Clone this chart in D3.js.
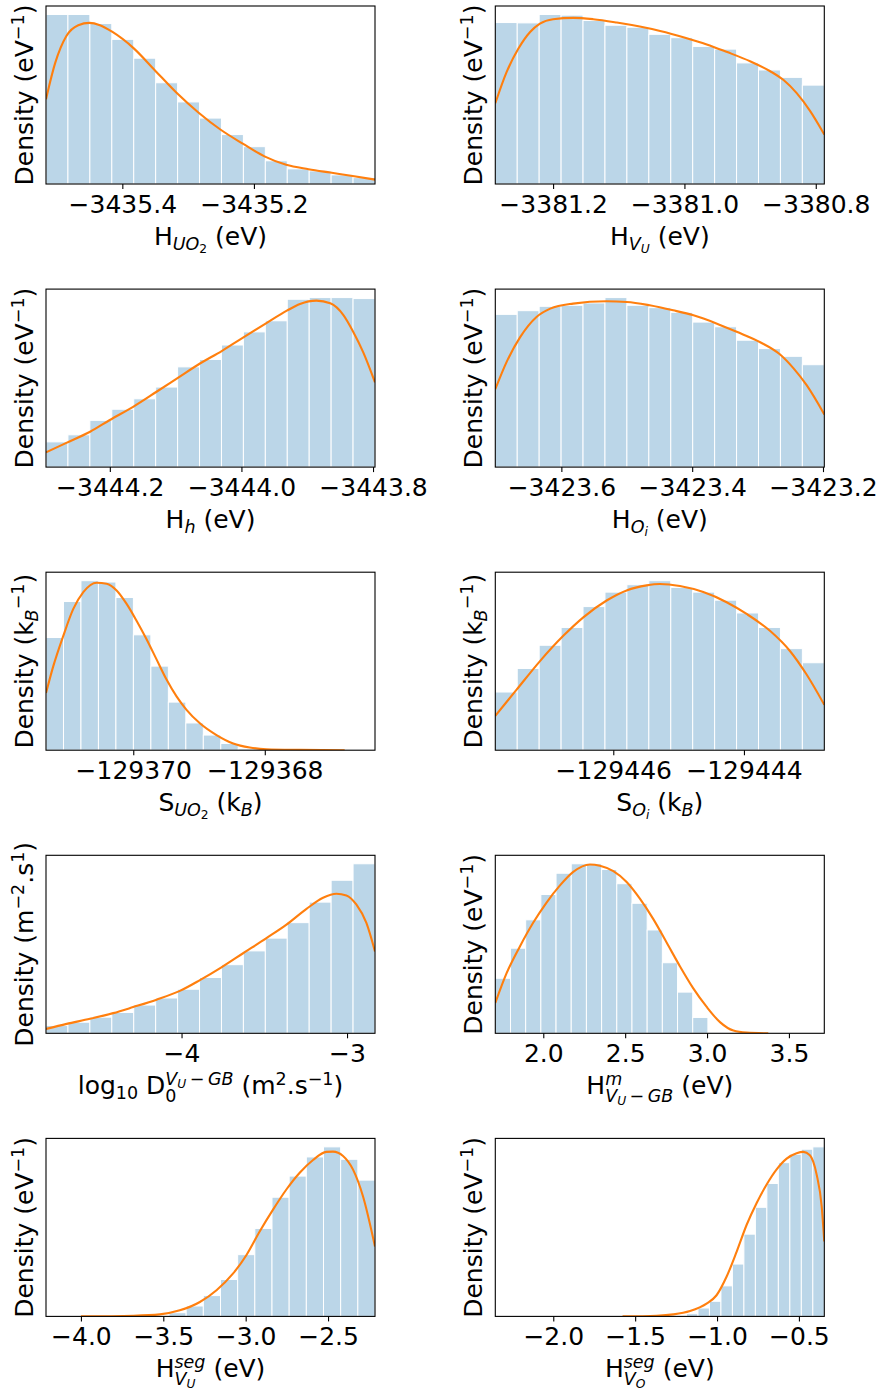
<!DOCTYPE html>
<html>
<head>
<meta charset="utf-8">
<script src="https://cdn.jsdelivr.net/npm/d3@7"></script>
<style>
  body { margin: 0; background: #fff; }
  text { font-family: "DejaVu Sans", sans-serif; fill: #000; white-space: pre; }
</style>
</head>
<body>
<svg id="fig" width="883" height="1396"></svg>
<script>
// -------------------- DATA (bar heights / kde in relative density units) -------------------- //

// H_UO2
let huo2Xlim = [-3435.516, -3435.016];
let huo2Range = [-3435.516, -3435.016];
let huo2Bars = [504, 504, 477, 430, 374, 301, 244, 196, 147, 111, 69, 45, 39, 27, 19];
let huo2Kde = [[-3435.516,252],[-3435.502,360],[-3435.485,440],[-3435.467,472],[-3435.450,479],[-3435.434,472],
  [-3435.415,452],[-3435.383,404],[-3435.350,337],[-3435.318,272],[-3435.284,212],[-3435.251,162],[-3435.217,120],
  [-3435.184,82],[-3435.151,57],[-3435.117,44],[-3435.084,34],[-3435.050,24],[-3435.016,13]];
let huo2Ticks = [-3435.4, -3435.2];

// H_VU
let hvuXlim = [-3381.288, -3380.787];
let hvuRange = [-3381.288, -3380.787];
let hvuBars = [480, 479, 504, 502, 486, 472, 466, 445, 435, 409, 401, 360, 339, 317, 294];
let hvuKde = [[-3381.288,240],[-3381.271,332],[-3381.253,402],[-3381.235,452],[-3381.220,477],[-3381.200,490],
  [-3381.169,494],[-3381.139,490],[-3381.103,480],[-3381.068,468],[-3381.037,455],[-3380.999,435],[-3380.966,415],
  [-3380.936,393],[-3380.900,365],[-3380.870,336],[-3380.849,309],[-3380.829,270],[-3380.809,218],[-3380.787,147]];
let hvuTicks = [-3381.2, -3381.0, -3380.8];

// H_h
let hhXlim = [-3444.297, -3443.797];
let hhRange = [-3444.297, -3443.797];
let hhBars = [75, 96, 139, 172, 203, 238, 298, 320, 363, 402, 435, 499, 504, 504, 501];
let hhKde = [[-3444.297,44],[-3444.266,72],[-3444.230,105],[-3444.200,140],[-3444.164,180],[-3444.129,224],
  [-3444.096,266],[-3444.063,308],[-3444.030,345],[-3444.000,382],[-3443.962,428],[-3443.931,465],[-3443.911,485],
  [-3443.886,495],[-3443.865,487],[-3443.845,452],[-3443.830,402],[-3443.815,342],[-3443.797,252]];
let hhTicks = [-3444.2, -3444.0, -3443.8];

// H_Oi
let hoiXlim = [-3423.701, -3423.198];
let hoiRange = [-3423.701, -3423.198];
let hoiBars = [455, 466, 479, 482, 489, 505, 482, 475, 461, 432, 418, 378, 353, 330, 305];
let hoiKde = [[-3423.701,232],[-3423.684,312],[-3423.663,387],[-3423.638,447],[-3423.617,472],[-3423.582,487],
  [-3423.531,494],[-3423.500,492],[-3423.465,482],[-3423.429,467],[-3423.398,452],[-3423.363,428],[-3423.332,403],
  [-3423.296,372],[-3423.266,336],[-3423.245,294],[-3423.225,244],[-3423.198,157]];
let hoiTicks = [-3423.6, -3423.4, -3423.2];

// S_UO2
let suo2Xlim = [-129371.327, -129366.324];
let suo2Range = [-129371.327, -129367.34];
let suo2Bars = [335, 442, 504, 500, 454, 343, 250, 143, 81, 45, 20, 4, 1, 0, 1];
let suo2Kde = [[-129371.327,170],[-129371.216,250],[-129371.064,340],[-129370.912,420],[-129370.760,470],
  [-129370.557,498],[-129370.405,495],[-129370.253,475],[-129370.101,435],[-129369.950,385],[-129369.798,330],
  [-129369.646,270],[-129369.494,210],[-129369.342,160],[-129369.190,120],[-129368.987,80],[-129368.734,45],
  [-129368.481,20],[-129368.228,8],[-129367.975,3],[-129367.468,1],[-129366.785,0]];
let suo2Ticks = [-129370, -129368];

// S_Oi
let soiXlim = [-129447.806, -129442.770];
let soiRange = [-129447.806, -129442.770];
let soiBars = [173, 243, 312, 365, 427, 470, 492, 504, 484, 470, 446, 408, 365, 302, 260];
let soiKde = [[-129447.806,102],[-129447.480,180],[-129447.122,265],[-129446.765,340],[-129446.459,395],
  [-129446.102,445],[-129445.796,475],[-129445.490,490],[-129445.286,494],[-129444.980,488],[-129444.622,470],
  [-129444.265,440],[-129443.959,405],[-129443.602,355],[-129443.296,295],[-129443.041,225],[-129442.770,135]];
let soiTicks = [-129446, -129444];

// log10 D0
let d0Xlim = [-4.819, -2.831];
let d0Range = [-4.819, -2.831];
let d0Bars = [23, 33, 48, 62, 84, 105, 131, 166, 204, 245, 283, 329, 390, 455, 504];
let d0Kde = [[-4.819,13],[-4.694,28],[-4.553,43],[-4.413,60],[-4.292,78],[-4.151,100],[-4.010,126],[-3.889,158],
  [-3.759,196],[-3.628,238],[-3.487,283],[-3.366,323],[-3.245,370],[-3.145,403],[-3.064,415],[-3.004,410],
  [-2.944,383],[-2.883,328],[-2.831,243]];
let d0Ticks = [-4, -3];

// H^m_VU-GB
let hmXlim = [1.707, 3.716];
let hmRange = [1.707, 3.098];
let hmBars = [163, 252, 336, 411, 474, 502, 502, 485, 443, 385, 306, 209, 122, 47, 1];
let hmKde = [[1.707,90],[1.776,178],[1.858,258],[1.939,328],[2.021,388],[2.102,438],[2.183,478],[2.285,500],
  [2.346,496],[2.428,480],[2.509,448],[2.591,398],[2.672,338],[2.754,268],[2.835,198],[2.916,133],[2.998,78],
  [3.079,33],[3.161,8],[3.242,2],[3.374,0]];
let hmTicks = [2.0, 2.5, 3.0, 3.5];

// H^seg_VU
let hsuXlim = [-4.212, -2.215];
let hsuRange = [-3.778, -2.215];
let hsuBars = [1, 0, 1, 11, 31, 62, 110, 184, 262, 355, 418, 475, 505, 468, 406];
let hsuKde = [[-4.0,0],[-3.682,2],[-3.521,6],[-3.400,18],[-3.278,43],[-3.177,78],[-3.076,128],[-2.995,183],
  [-2.915,253],[-2.834,318],[-2.753,378],[-2.672,428],[-2.591,466],[-2.510,490],[-2.470,491],[-2.409,478],
  [-2.349,438],[-2.288,358],[-2.215,208]];
let hsuTicks = [-4.0, -3.5, -3.0, -2.5];

// H^seg_VO
let hsoXlim = [-2.354, -0.345];
let hsoRange = [-1.397, -0.345];
let hsoBars = [1, 0, 1, 8, 25, 45, 91, 156, 245, 325, 396, 458, 483, 498, 505];
let hsoKde = [[-1.577,0],[-1.369,2],[-1.267,6],[-1.165,16],[-1.064,38],[-1.003,63],[-0.942,118],[-0.880,193],
  [-0.819,273],[-0.758,338],[-0.697,393],[-0.636,438],[-0.575,470],[-0.514,486],[-0.473,490],[-0.433,480],
  [-0.392,423],[-0.361,328],[-0.345,223]];
let hsoTicks = [-2.0, -1.5, -1.0, -0.5];

// -------------------- LABEL PIECES -------------------- //
let sub = (t, i) => ({t: t, k: 0.7, dy: 0.18, i: i});
let sub2 = (t, i) => ({t: t, k: 0.49, dy: 0.3, i: i});
let subL = (t, i) => ({t: t, k: 0.7, dy: 0.3, i: i});
let subL2 = (t, i) => ({t: t, k: 0.49, dy: 0.42, i: i});
let sup = (t, i) => ({t: t, k: 0.7, dy: -0.36, i: i});
let supSub = (t, i) => ({t: t, k: 0.49, dy: -0.24, i: i});

let yEv = ["Density (eV", sup("\u22121"), ")"];
let yKb = ["Density (k", sub("B", true), sup("\u22121"), ")"];
let yD0 = ["Density (m", sup("\u22122"), ".s", sup("1"), ")"];

let panels = [
  {xlim: huo2Xlim, range: huo2Range, bars: huo2Bars, kde: huo2Kde, ticks: huo2Ticks, fmt: ".1f", ylab: yEv,
   xlab: ["H", sub("UO", true), sub2("2"), " (eV)"]},
  {xlim: hvuXlim, range: hvuRange, bars: hvuBars, kde: hvuKde, ticks: hvuTicks, fmt: ".1f", ylab: yEv,
   xlab: ["H", sub("V", true), sub2("U", true), " (eV)"]},
  {xlim: hhXlim, range: hhRange, bars: hhBars, kde: hhKde, ticks: hhTicks, fmt: ".1f", ylab: yEv,
   xlab: ["H", sub("h", true), " (eV)"]},
  {xlim: hoiXlim, range: hoiRange, bars: hoiBars, kde: hoiKde, ticks: hoiTicks, fmt: ".1f", ylab: yEv,
   xlab: ["H", sub("O", true), sub2("i", true), " (eV)"]},
  {xlim: suo2Xlim, range: suo2Range, bars: suo2Bars, kde: suo2Kde, ticks: suo2Ticks, fmt: "d", ylab: yKb,
   xlab: ["S", sub("UO", true), sub2("2"), " (k", sub("B", true), ")"]},
  {xlim: soiXlim, range: soiRange, bars: soiBars, kde: soiKde, ticks: soiTicks, fmt: "d", ylab: yKb,
   xlab: ["S", sub("O", true), sub2("i", true), " (k", sub("B", true), ")"]},
  {xlim: d0Xlim, range: d0Range, bars: d0Bars, kde: d0Kde, ticks: d0Ticks, fmt: "d", ylab: yD0,
   xlab: ["log", sub("10"), " D", {stack: [[sup("V", true), supSub("U", true), sup("\u2009\u2212\u2009GB", true)], [subL("0")]]},
          " (m", sup("2"), ".s", sup("\u22121"), ")"]},
  {xlim: hmXlim, range: hmRange, bars: hmBars, kde: hmKde, ticks: hmTicks, fmt: ".1f", ylab: yEv,
   xlab: ["H", {stack: [[sup("m", true)], [subL("V", true), subL2("U", true), subL("\u2009\u2212\u2009GB", true)]]}, " (eV)"]},
  {xlim: hsuXlim, range: hsuRange, bars: hsuBars, kde: hsuKde, ticks: hsuTicks, fmt: ".1f", ylab: yEv,
   xlab: ["H", {stack: [[sup("seg", true)], [subL("V", true), subL2("U", true)]]}, " (eV)"]},
  {xlim: hsoXlim, range: hsoRange, bars: hsoBars, kde: hsoKde, ticks: hsoTicks, fmt: ".1f", ylab: yEv,
   xlab: ["H", {stack: [[sup("seg", true)], [subL("V", true), subL2("O", true)]]}, " (eV)"]},
];

// -------------------- LAYOUT -------------------- //
let FS = 25;
let colX = [46, 495.3];
let plotW = 329;
let plotH = 178;
let rowTop = 6;
let rowStep = 283.1;

let svg = d3.select("#fig");

// write text pieces one after another, returns end x
function addSegs(g, segs, x0) {
  let x = x0;
  segs.forEach(s => {
    if (typeof s === "string") s = {t: s};
    if (s.stack) {
      let ends = s.stack.map(list => addSegs(g, list, x));
      x = Math.max(...ends);
      return;
    }
    let t = g.append("text")
      .attr("x", x)
      .attr("y", (s.dy || 0) * FS)
      .attr("font-size", FS * (s.k || 1))
      .attr("font-style", s.i ? "italic" : "normal")
      .text(s.t);
    x += t.node().getComputedTextLength();
  });
  return x;
}

function drawLabel(parent, segs, px, py, rotate) {
  let g = parent.append("g");
  let w = addSegs(g, segs, 0);
  if (rotate) g.attr("transform", `translate(${px},${py}) rotate(-90) translate(${-w / 2},0)`);
  else g.attr("transform", `translate(${px - w / 2},${py})`);
}

// -------------------- DRAW PANELS -------------------- //
panels.forEach((p, i) => {
  let left = colX[i % 2];
  let top = rowTop + Math.floor(i / 2) * rowStep;
  let g = svg.append("g").attr("transform", `translate(${left},${top})`);

  let x = d3.scaleLinear().domain(p.xlim).range([0, plotW]);
  let yMax = 1.05 * Math.max(d3.max(p.bars), d3.max(p.kde, d => d[1]));
  let y = d3.scaleLinear().domain([0, yMax]).range([plotH, 0]);

  g.append("clipPath").attr("id", "clip" + i)
    .append("rect").attr("width", plotW).attr("height", plotH);

  let step = (p.range[1] - p.range[0]) / p.bars.length;
  let bins = p.bars.map((h, j) => ({x0: p.range[0] + j * step, x1: p.range[0] + (j + 1) * step, h: h}));

  g.append("g").attr("clip-path", `url(#clip${i})`)
    .selectAll("rect").data(bins).enter().append("rect")
      .attr("x", d => x(d.x0))
      .attr("width", d => x(d.x1) - x(d.x0))
      .attr("y", d => y(d.h))
      .attr("height", d => y(0) - y(d.h))
      .attr("fill", "#1f77b4")
      .attr("fill-opacity", 0.3)
      .attr("stroke", "#fff")
      .attr("stroke-width", 1);

  let line = d3.line().x(d => x(d[0])).y(d => y(d[1])).curve(d3.curveMonotoneX);
  g.append("path").datum(p.kde)
    .attr("clip-path", `url(#clip${i})`)
    .attr("d", line)
    .attr("fill", "none")
    .attr("stroke", "#ff7f0e")
    .attr("stroke-width", 2.1);

  // frame
  g.append("rect").attr("width", plotW).attr("height", plotH)
    .attr("fill", "none").attr("stroke", "#000").attr("stroke-width", 1.1);

  // x axis
  let ax = g.append("g").attr("transform", `translate(0,${plotH})`)
    .call(d3.axisBottom(x).tickValues(p.ticks).tickFormat(d3.format(p.fmt)).tickSizeOuter(0).tickSize(5).tickPadding(4));
  ax.select(".domain").remove();
  ax.selectAll(".tick line").attr("stroke", "#000").attr("stroke-width", 1.1);
  ax.selectAll(".tick text").attr("font-size", FS).attr("font-family", "DejaVu Sans").attr("fill", "#000")
    .attr("dy", null).attr("y", 29);

  drawLabel(g, p.xlab, plotW / 2, plotH + 61, false);
  drawLabel(g, p.ylab, -13, plotH / 2, true);
});
</script>
</body>
</html>
